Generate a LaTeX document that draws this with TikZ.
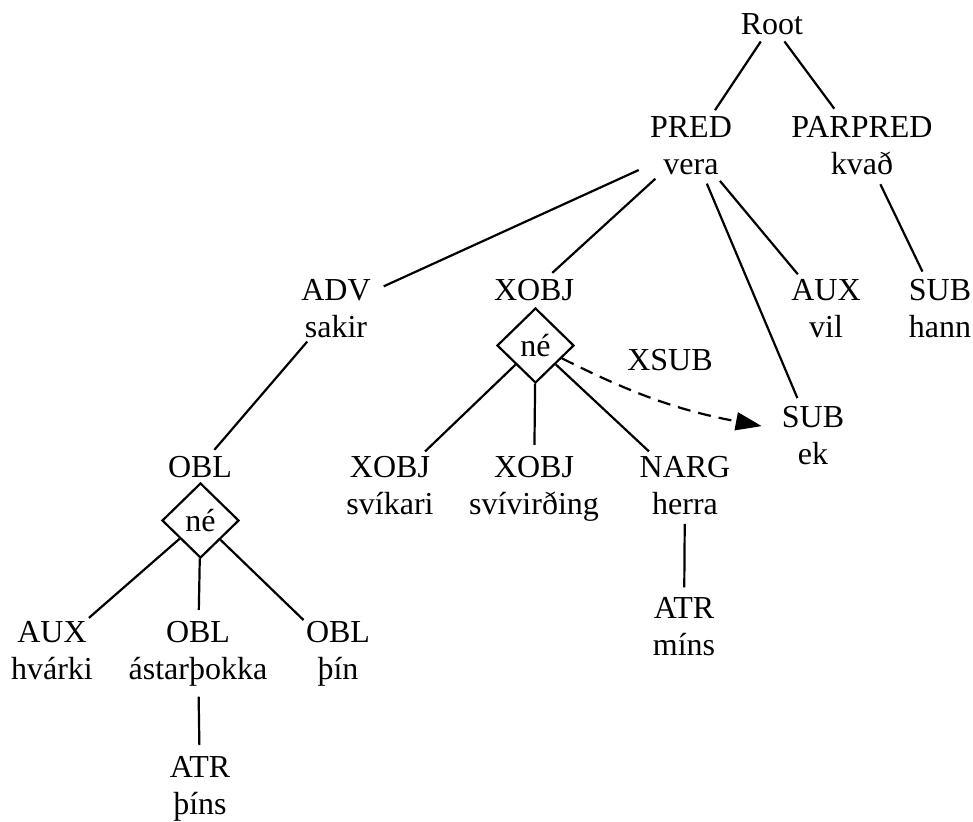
\documentclass[tikz,border=0pt]{standalone}
\usepackage{fontspec}
\setmainfont{Liberation Serif}
\usetikzlibrary{shapes.geometric,arrows.meta}
\begin{document}
\begin{tikzpicture}[x=1pt,y=-1pt,
  lbl/.style={ellipse,inner sep=1.5pt,align=center,anchor=base,font=\fontsize{32}{37}\selectfont},
  pair/.style={lbl,inner xsep=6pt,inner ysep=-2pt},
  coord/.style={diamond,draw,line width=2.2pt,inner sep=0pt,minimum width=77pt,minimum height=75pt,font=\fontsize{32}{37}\selectfont},
  edge/.style={line width=2.2pt},
  xsub/.style={line width=2.2pt,dash pattern=on 13pt off 8pt,-{Triangle[length=26pt,width=18pt]}}]
\useasboundingbox (0,0) rectangle (973,821);

% nodes (placed by the baseline of their last line)
\node[lbl] (root) at (772,35) {Root};
\node[pair] (pred) at (691,175) {PRED\\vera};
\node[pair] (parpred) at (862,175) {PARPRED\\kvað};
\node[pair] (adv) at (336,337) {ADV\\sakir};
\node[lbl] (xobj) at (534,300) {XOBJ};
\node[coord] (xd) at (535.5,345.5) {né};
\node[pair] (vil) at (826,337) {AUX\\vil};
\node[pair] (hann) at (940,337) {SUB\\hann};
\node[pair] (ek) at (813,464) {SUB\\ek};
\node[lbl] (xlab) at (670,370) {XSUB};
\node[pair] (svikari) at (390,514) {XOBJ\\svíkari};
\node[pair] (svivird) at (534,514) {XOBJ\\svívirðing};
\node[pair] (herra) at (685,514) {NARG\\herra};
\node[pair] (mins) at (684,655) {ATR\\míns};
\node[lbl] (obl) at (200,477) {OBL};
\node[coord] (od) at (200.5,520.5) {né};
\node[pair] (hvarki) at (52,679) {AUX\\hvárki};
\node[pair] (astar) at (198,679) {OBL\\ástarþokka};
\node[pair] (thin) at (338,679) {OBL\\þín};
\node[pair] (thins) at (200,814) {ATR\\þíns};

% edges
\draw[edge] (root) -- (pred);
\draw[edge] (root) -- (parpred);
\draw[edge] (pred) -- (adv);
\draw[edge] (pred) -- (xobj);
\draw[edge] (pred) -- (vil);
\draw[edge] (pred) -- (ek);
\draw[edge] (parpred) -- (hann);
\draw[edge] (adv) -- (obl);
\draw[edge] (xd) -- (svikari);
\draw[edge] (xd) -- (svivird);
\draw[edge] (xd) -- (herra);
\draw[edge] (herra) -- (mins);
\draw[edge] (od) -- (hvarki);
\draw[edge] (od) -- (astar);
\draw[edge] (od) -- (thin);
\draw[edge] (astar) -- (thins);
\draw[xsub] (xd) to[bend right=8] (ek);
\end{tikzpicture}
\end{document}
